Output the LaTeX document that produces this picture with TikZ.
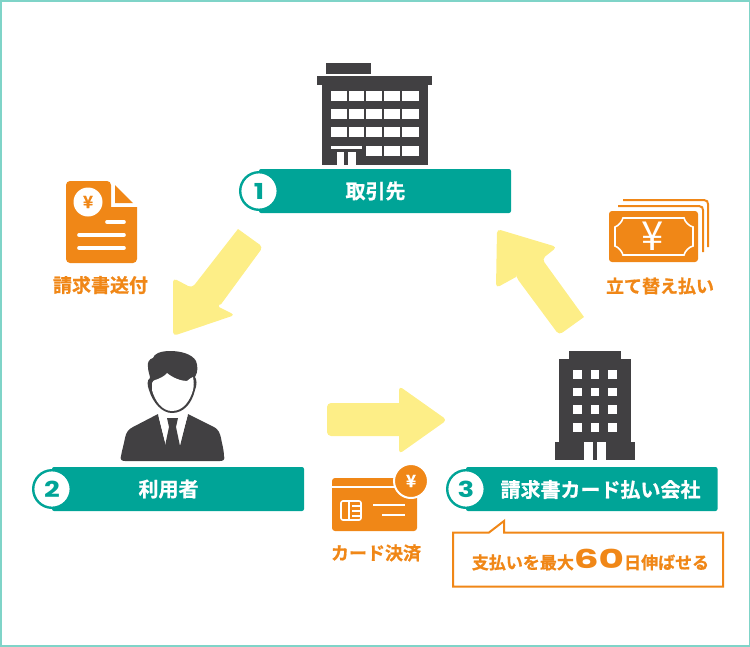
\documentclass[tikz,border=0pt]{standalone}
\usepackage{fontspec}
\setmainfont{Noto Sans CJK JP}[BoldFont={Noto Sans CJK JP Bold},BoldFeatures={FakeBold=0.8}]
\newfontfamily\digitfont{Poppins}[BoldFont={Poppins Bold},FakeStretch=1.25]
\newfontfamily\widefont{Poppins}[BoldFont={Poppins Bold},FakeStretch=1.5]
\usetikzlibrary{positioning}
\definecolor{teal1}{HTML}{00A497}
\definecolor{frame1}{HTML}{7FD4C8}
\definecolor{dark1}{HTML}{414042}
\definecolor{orange1}{HTML}{F08717}
\definecolor{yellow1}{HTML}{FDEE87}
\tikzset{
 bar/.style={fill=teal1,rounded corners=2pt},
 numdisc/.style={circle,draw=teal1,fill=white,line width=2.4pt,minimum size=37.6pt,inner sep=0pt,text=teal1,font=\digitfont\bfseries\fontsize{22}{22}\selectfont},
 barlabel/.style={text=white,font=\bfseries\fontsize{20}{20}\selectfont,inner sep=0pt},
 ornlabel/.style={text=orange1,font=\bfseries\fontsize{18}{18}\selectfont,inner sep=0pt},
 arrowy/.style={fill=yellow1},
 darkfill/.style={fill=dark1},
 orfill/.style={fill=orange1},
 wline/.style={draw=white,line width=3.6pt,line cap=round},
 win/.style={fill=white}
}
\begin{document}
\begin{tikzpicture}[x=1pt,y=-1pt]
 \useasboundingbox (0,0) rectangle (750,646);
 \draw[frame1,line width=2pt] (0.5,0.5) rectangle (749.5,645.5);
 % arrows
 \fill[arrowy,rounded corners=4pt] (238,229) -- (263,247) -- (219,307) [sharp corners] -- (219,307) [rounded corners=4pt] -- (235,315) -- (173,336) -- (173,278) -- (192,288) [sharp corners] -- cycle;
 \fill[arrowy,rounded corners=4pt] (327,403) [sharp corners] -- (399,403) [rounded corners=4pt] -- (399,386) -- (447,420) -- (399,454) [sharp corners] -- (399,436) [rounded corners=4pt] -- (327,436) -- cycle;
 \fill[arrowy,rounded corners=4pt] (584,317) -- (559,335) -- (516,277) [sharp corners] -- (516,277) [rounded corners=4pt] -- (496,288) -- (497,229) -- (557,247) -- (542,259) [sharp corners] -- cycle;
 % building 1
 \fill[darkfill] (326,63) rectangle (371,74);
 \fill[darkfill] (317,76) rectangle (432,85);
 \fill[darkfill] (322,85) rectangle (428,165);
 \foreach \y in {91,109,127} {
  \fill[win] (331,\y) rectangle (418.5,\y+10);
  \foreach \x in {347,364,382,400}
   \fill[darkfill] (\x,\y) rectangle (\x+2,\y+10);
 }
 \fill[win] (366,146) rectangle (418.5,156);
 \foreach \x in {382,400}
  \fill[darkfill] (\x,146) rectangle (\x+2,156);
 \fill[win] (331,146) rectangle (362,148.5);
 \fill[win] (337,152) rectangle (344,165);
 \fill[win] (348,152) rectangle (356,165);
 % bar 1
 \fill[bar] (259,169) rectangle (511,213);
 \node[numdisc] (n_1) at (259,191) {1};
 \node[barlabel] (l_1) at (375.5,191) {取引先};
 % person
 \fill[darkfill] (125,461) .. controls (121,461) and (120,459) .. (121,456) .. controls (122,450) and (124,444) .. (125,438)
  .. controls (126,432) and (129,429) .. (133,427) -- (158,414) -- (166,446) -- (180,446) -- (188,414) -- (214,427)
  .. controls (218,429) and (220,433) .. (221,438) .. controls (222,444) and (224,450) .. (224,456) .. controls (225,459) and (224,461) .. (220,461) -- cycle;
 \fill[win] (158.5,416) -- (166,446) -- (169,428) -- (167,419) -- (178,419) -- (176,428) -- (179,446) -- (187.5,416) -- (186,410) -- (160,410) -- cycle;
 \fill[darkfill] (169,427) -- (176,427) -- (180,446) -- (165,446) -- cycle;
 \fill[darkfill] (167,418) -- (178,418) -- (176,427) -- (169,427) -- cycle;
 \fill[darkfill] (170,351) .. controls (160,351) and (154,354) .. (153,358) .. controls (149,359) and (147,363) .. (148,367) .. controls (148,372) and (150,375) .. (150,378)
  .. controls (147,380) and (147,385) .. (149,390) .. controls (153,403) and (162,413) .. (172,413) .. controls (184,413) and (192,403) .. (195,390)
  .. controls (197,385) and (197,380) .. (195,377) .. controls (198,372) and (198,366) .. (196,361) .. controls (192,354) and (181,351) .. (170,351) -- cycle;
 \fill[win] (152,383) .. controls (153,381) and (154,380) .. (155,380) .. controls (159,379) and (165,376) .. (167,373) .. controls (173,378) and (181,381) .. (187,381)
  .. controls (189,379) and (191,378) .. (193,377) .. controls (194,382) and (194,386) .. (193,390) .. controls (190,401) and (183,411) .. (172,411) .. controls (162,411) and (155,401) .. (152,390) -- cycle;
 % bar 2
 \fill[bar] (52,467) rectangle (304,511);
 \node[numdisc] (n_2) at (52,489) {2};
 \node[barlabel] (l_2) at (168.5,489) {利用者};
 % building 3
 \fill[darkfill] (569,351) rectangle (621,360);
 \fill[darkfill] (559,359) rectangle (631,442);
 \fill[darkfill] (555,442) rectangle (635,460);
 \foreach \y in {370,387.5,405,423} \foreach \x in {573,590.5,608}
  \fill[win] (\x,\y) rectangle (\x+8.5,\y+8.5);
 \fill[win] (584,442) rectangle (593,460);
 \fill[win] (597,442) rectangle (605.5,460);
 % bar 3
 \fill[bar] (466,467) rectangle (717.5,511);
 \node[numdisc] (n_3) at (466,489) {3};
 \node[barlabel] (l_3) at (600.5,489.5) {請求書カード払い会社};
 % callout
 \draw[orange1,line width=2pt,fill=white] (453,532.5) -- (489,532.5) -- (504,521) -- (504,532.5) -- (723,532.5) -- (723,586.5) -- (453,586.5) -- cycle;
 \node[inner sep=0pt,text=orange1,font=\bfseries\fontsize{17}{17}\selectfont] (l_c) at (590.5,560) {支払いを最大{\widefont\fontsize{26}{26}\selectfont 60}日伸ばせる};
 % invoice
 \fill[orfill,rounded corners=4pt] (66,181) -- (111,181) [sharp corners] -- (111,207) -- (137,207) [rounded corners=4pt] -- (137,263) -- (66,263) -- cycle;
 \fill[orfill] (115,185) -- (133,203) -- (115,203) -- cycle;
 \fill[win] (88,202) circle (14.5pt);
 \node[inner sep=0pt,text=orange1,font=\bfseries\fontsize{17}{17}\selectfont] (y_inv) at (88,202) {¥};
 \draw[wline] (107,222) -- (124,222);
 \draw[wline] (79,235) -- (124,235);
 \draw[wline] (79,248) -- (124,248);
 \node[ornlabel,font=\bfseries\fontsize{19}{19}\selectfont] (l_inv) at (100.5,285) {請求書送付};
 % bills
 \draw[orange1,line width=2pt] (623,200) -- (704,200) .. controls (707,200) and (708,202) .. (708,204) -- (708,247);
 \draw[orange1,line width=2pt] (618,206) -- (699,206) .. controls (702,206) and (703,208) .. (703,210) -- (703,252);
 \fill[orfill,rounded corners=3pt] (609,211) rectangle (698,262);
 \draw[white,line width=1.6pt] (623,218) -- (684,218) .. controls (685,222) and (689,226) .. (693,227) -- (693,246)
   .. controls (689,247) and (685,251) .. (684,255) -- (623,255) .. controls (622,251) and (618,247) .. (615,246) -- (615,227)
   .. controls (618,226) and (622,222) .. (623,218) -- cycle;
 \node[inner sep=0pt,text=white,font=\fontsize{40}{40}\selectfont] (y_bill) at (653,236) {¥};
 \node[ornlabel] (l_bill) at (660,286) {立て替え払い};
 % card
 \fill[orfill,rounded corners=3pt] (332,478) rectangle (417,531);
 \draw[white,line width=1.5pt] (332,487) -- (405,487);
 \fill[orfill,draw=white,line width=2pt] (411,481) circle (17pt);
 \node[inner sep=0pt,text=white,font=\bfseries\fontsize{17}{17}\selectfont] (y_card) at (411,481) {¥};
 \draw[white,line width=1.6pt,rounded corners=2pt] (341,501) rectangle (361,520);
 \draw[white,line width=2.2pt] (349,501) -- (349,520);
 \draw[white,line width=1.6pt] (352,506) -- (361,506) (352,511) -- (361,511) (352,516) -- (361,516);
 \draw[white,line width=1.6pt] (373,505) -- (405,505) (382,515) -- (405,515);
 \node[ornlabel] (l_card) at (376,553) {カード決済};
\end{tikzpicture}
\end{document}
